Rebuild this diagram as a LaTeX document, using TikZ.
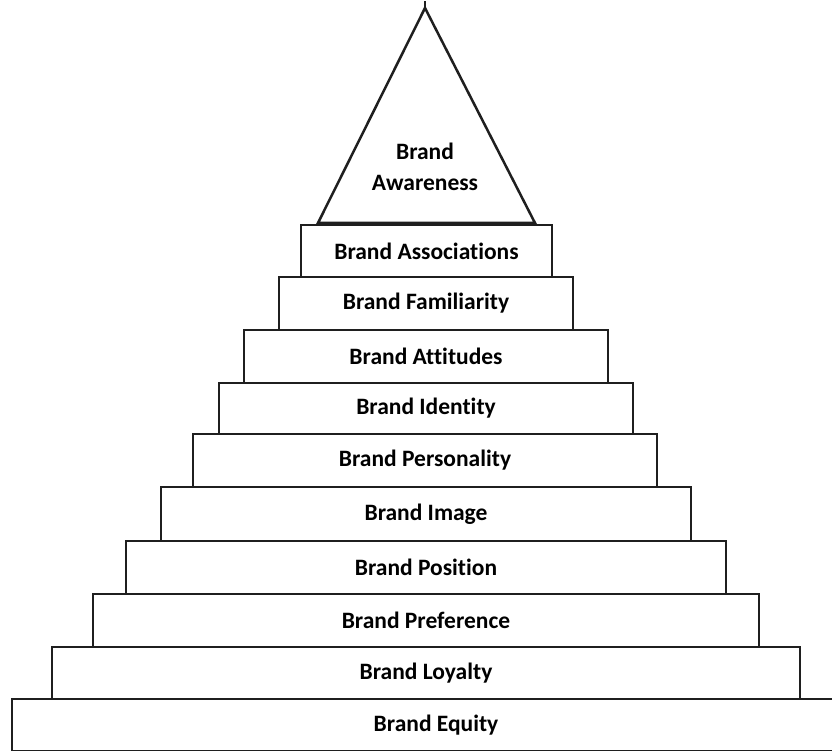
\documentclass[tikz,border=0pt]{standalone}
\usepackage{fontspec}
\setmainfont[Ligatures=NoCommon]{Carlito}
\begin{document}
\begin{tikzpicture}[x=1pt,y=-1pt,
  tier/.style={draw=black!88, line width=2.5pt, fill=white, inner sep=0pt,
    font=\bfseries\fontsize{23.5}{26}\selectfont, align=center},
  peak/.style={draw=black!88, line width=2.5pt, line join=miter}]
\useasboundingbox (0,0) rectangle (832,751);
\clip (0,0) rectangle (832,751);
% each tier: left, right, top, bottom (pt)
\newcommand{\tierbox}[6]{%
  \node[tier, minimum width={#3-#2}, minimum height={#5-#4}]
    (#1) at ({(#2+#3)/2},{(#4+#5)/2}) {#6};}
\tierbox{equity}{12}{860}{699}{751}{Brand Equity}
\tierbox{loyalty}{52}{800}{647}{699}{Brand Loyalty}
\tierbox{preference}{93}{759}{594}{647}{Brand Preference}
\tierbox{position}{126}{726}{541}{594}{Brand Position}
\tierbox{image}{161}{691}{487}{541}{Brand Image}
\tierbox{personality}{193}{657}{434}{487}{Brand Personality}
\tierbox{identity}{219}{633}{383}{434}{Brand Identity}
\tierbox{attitudes}{244}{608}{330}{383}{Brand Attitudes}
\tierbox{familiarity}{279}{573}{277}{330}{Brand Familiarity}
\tierbox{associations}{301}{552}{225}{277}{Brand Associations}
% the peak of the pyramid
\coordinate (apex) at (425,8);
\coordinate (baseL) at (318,223);
\coordinate (baseR) at (535,223);
\draw[peak] (baseL) -- (apex) -- (baseR) -- cycle;
\draw[peak, line width=1.5pt] (apex) -- ++(0,-7);
\node[font=\bfseries\fontsize{23.5}{31}\selectfont, align=center] (awareness)
  at (425,167) {Brand\\Awareness};
\end{tikzpicture}
\end{document}
